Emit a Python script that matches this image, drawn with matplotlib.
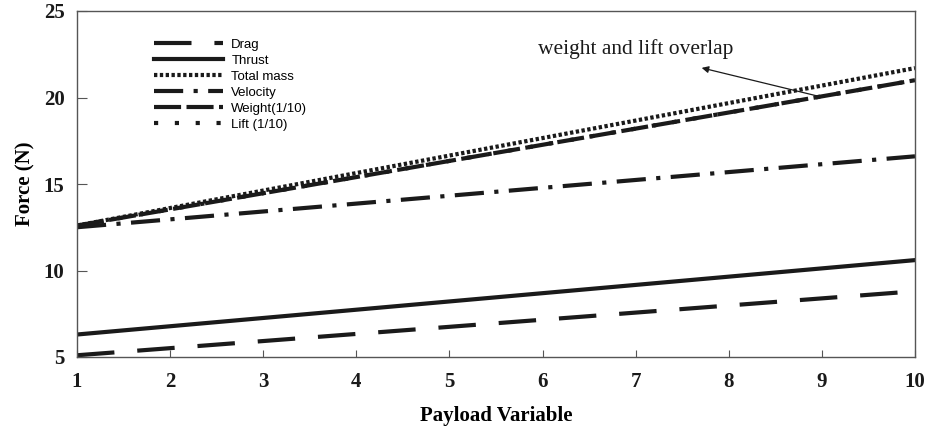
import matplotlib
matplotlib.use("Agg")
import matplotlib.pyplot as plt

x = [1, 10]
drag = [5.1, 8.8]
thrust = [6.3, 10.6]
total_mass = [12.6, 21.7]
velocity = [12.5, 16.6]
weight = [12.6, 21.0]
lift = [12.6, 21.0]

xticks = list(range(1, 11))
yticks = [5, 10, 15, 20, 25]

fig = plt.figure(figsize=(9.27, 4.30), dpi=100)
ax = fig.add_axes([77/927, 1-357/430, (915-77)/927, (357-11)/430])

lw = 3.0
ax.plot(x, drag, color='#1a1a1a', lw=lw, dashes=(9, 5.5), label='Drag')
ax.plot(x, thrust, color='#1a1a1a', lw=lw, label='Thrust')
ax.plot(x, total_mass, color='#1a1a1a', lw=lw, dashes=(0.8, 0.6), label='Total mass')
ax.plot(x, velocity, color='#1a1a1a', lw=lw, dashes=(7, 2.5, 1, 2.5), label='Velocity')
ax.plot(x, weight, color='#1a1a1a', lw=lw, dashes=(6.5, 1.3), label='Weight(1/10)')
ax.plot(x, lift, color='#1a1a1a', lw=lw, dashes=(1, 4), label='Lift (1/10)')

ax.set_xlim(1, 10)
ax.set_ylim(5, 25)
ax.set_xticks(xticks)
ax.set_yticks(yticks)
serif = ['Liberation Serif', 'DejaVu Serif']
ax.set_xticklabels([str(t) for t in xticks], fontfamily=serif, fontweight='bold', fontsize=15)
ax.set_yticklabels([str(t) for t in yticks], fontfamily=serif, fontweight='bold', fontsize=15)
ax.tick_params(axis='x', direction='in', length=5, width=0.8, pad=11, colors='#555555', labelcolor='#1a1a1a')
ax.tick_params(axis='y', direction='in', length=7, width=0.8, pad=9, colors='#555555', labelcolor='#1a1a1a')
for s in ax.spines.values():
    s.set_color('#555555')
    s.set_linewidth(1.0)

ax.set_xlabel('Payload Variable', fontfamily=serif, fontweight='bold', fontsize=15, labelpad=10)
ax.set_ylabel('Force (N)', fontfamily=serif, fontweight='bold', fontsize=15, labelpad=6)

leg = ax.legend(loc='upper left', bbox_to_anchor=(0.085, 0.935), frameon=False,
                prop={'family': ['Liberation Sans', 'DejaVu Sans'], 'size': 9.5},
                handlelength=5.3, handletextpad=0.6, labelspacing=0.28, borderaxespad=0)

ax.annotate('weight and lift overlap', xy=(7.7, 21.75), xytext=(5.95, 22.8),
            fontfamily=serif, fontsize=15.5, color='#1a1a1a', va='center', ha='left')
ax.annotate('', xy=(7.68, 21.75), xytext=(8.98, 20.05),
            arrowprops=dict(arrowstyle='-|>', color='#1a1a1a', lw=0.9, mutation_scale=10))

fig.savefig('out.png', dpi=100)
